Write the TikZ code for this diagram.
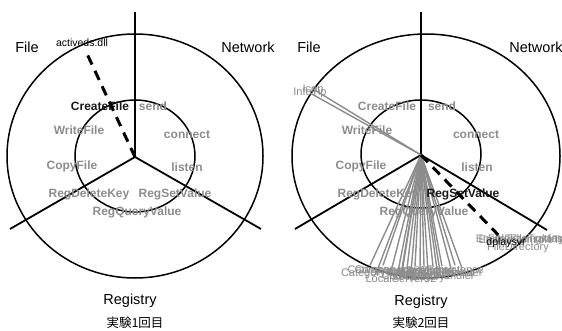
\documentclass[tikz,border=0pt]{standalone}
\usepackage{fontspec}
\setmainfont{Liberation Sans}
\newfontfamily\jpfont{Noto Sans CJK JP}
\usetikzlibrary{positioning}

\begin{document}
\begin{tikzpicture}[x=1pt,y=-1pt,
  ring/.style={line width=1.5pt},
  spoke/.style={line width=1.8pt},
  area/.style={font=\fontsize{14.5}{16}\selectfont,inner sep=1pt},
  api/.style={font=\fontsize{12}{14}\selectfont\bfseries,text=black!45,inner sep=1pt},
  hit/.style={font=\fontsize{12}{14}\selectfont\bfseries,text=black!90,inner sep=1pt},
  dll/.style={font=\fontsize{10.5}{12}\selectfont,inner sep=3pt},
  minor/.style={font=\fontsize{11}{12}\selectfont,text=black!45,inner sep=0.5pt},
  link/.style={draw=black!45,line width=1.4pt},
  trace/.style={line width=3pt,dash pattern=on 10pt off 7pt},
  caption/.style={font=\jpfont\fontsize{12.5}{14}\selectfont,inner sep=1pt}]
\useasboundingbox (0,0) rectangle (562,331);

\coordinate (c1) at (135,157);
\coordinate (top1) at (135,12);
\coordinate (left1) at (10,229);
\coordinate (right1) at (261,229);
\draw[ring] (135,156) ellipse [x radius=128pt,y radius=122pt];
\draw[ring] (135,156) ellipse [x radius=60pt,y radius=56pt];
\draw[spoke] (c1)--(top1);
\draw[spoke] (c1)--(left1);
\draw[spoke] (c1)--(right1);
\node[area] (file1) at (27,47) {File};
\node[area] (net1) at (248,47) {Network};
\node[area] (reg1) at (130,301) {Registry};
\node[caption] (cap1) at (135,323) {実験1回目};
\node[hit] (create1) at (100,106) {CreateFile};
\node[api] (send1) at (153,106) {send};
\node[api] (write1) at (79,130) {WriteFile};
\node[api] (connect1) at (187,135) {connect};
\node[api] (copy1) at (72,166) {CopyFile};
\node[api] (listen1) at (187,167) {listen};
\node[api] (delkey1) at (89,194) {RegDeleteKey};
\node[api] (setval1) at (175,194) {RegSetValue};
\node[api] (query1) at (137,212) {RegQueryValue};
\node[dll] (dll1) at (82,43) {activeds.dll};
\draw[trace] (c1)--(dll1);

\coordinate (c2) at (421,155);
\coordinate (top2) at (421,12);
\coordinate (left2) at (295,229);
\coordinate (right2) at (547,230);
\draw[ring] (426,156) ellipse [x radius=134pt,y radius=122pt];
\draw[ring] (421,154) ellipse [x radius=60pt,y radius=54pt];
\draw[spoke] (c2)--(top2);
\draw[spoke] (c2)--(left2);
\draw[spoke] (c2)--(right2);
\node[area] (file2) at (309,47) {File};
\node[area] (net2) at (536,47) {Network};
\node[area] (reg2) at (421,302) {Registry};
\node[caption] (cap2) at (421,323) {実験2回目};
\node[api] (create2) at (387,106) {CreateFile};
\node[api] (send2) at (442,106) {send};
\node[api] (write2) at (367,130) {WriteFile};
\node[api] (connect2) at (476,135) {connect};
\node[api] (copy2) at (361,166) {CopyFile};
\node[api] (listen2) at (477,167) {listen};
\node[api] (delkey2) at (378,194) {RegDeleteKey};
\node[api] (query2) at (424,212) {RegQueryValue};
\node[minor] (info2) at (310,93) {InfoTip};
\node[minor] (icon2) at (313,89) {Icon};
\draw[link] (c2)--(info2.center);
\draw[link] (c2)--(icon2.center);
\foreach \i/\x/\y/\t in {1/370/271/Category,2/378/274/CategoryCount,3/383/271/Component,
  4/401/279/LocalServer32,5/392/273/ProgID,6/398/276/CLSID,7/403/271/Version,
  8/407/274/TypeLib,9/411/278/Security,10/415/272/AppID,11/420/275/Interface,
  12/424/271/Default,13/428/278/Library,14/433/272/Settings,15/437/275/Proxy,
  16/442/271/Control,17/440/277/InprocHandler,18/451/273/Insertable,
  19/455/270/Persistence,20/462/273/Provider}{
  \node[minor] (r\i) at (\x,\y) {\t};
  \draw[link] (c2)--(r\i.north);
}
\node[hit] (setval2) at (463,194) {RegSetValue};
\node[minor] (t1) at (520,240) {EnableFileTracing};
\node[minor] (t2) at (534,241) {EnableConsoleTracing};
\node[minor] (t3) at (528,240) {FileTracingMask};
\node[minor] (t4) at (518,248) {FileDirectory};
\node[dll] (dplay2) at (506,243) {dplaysvr};
\draw[trace] (c2)--(dplay2);
\end{tikzpicture}
\end{document}
